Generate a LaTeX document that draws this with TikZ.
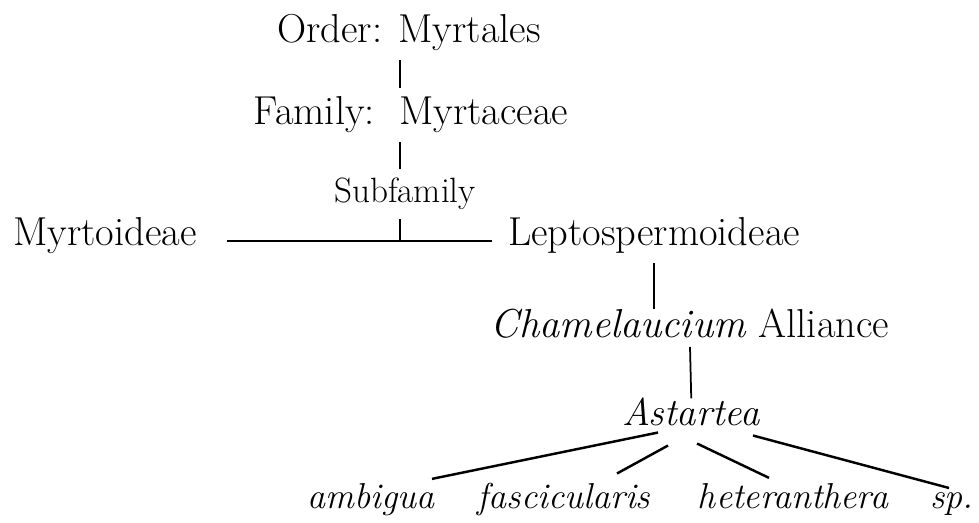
\documentclass[tikz,border=0pt]{standalone}
\usepackage{tikz}
\usetikzlibrary{calc}

\begin{document}
\begin{tikzpicture}[
    x=0.02cm, y=-0.02cm,
    taxon/.style={anchor=base,inner sep=5pt,font=\fontsize{23}{27}\selectfont},
    rank/.style={anchor=base,inner sep=5pt,font=\fontsize{20}{24}\selectfont},
    genus/.style={anchor=base,inner sep=5pt,font=\fontsize{22}{26}\selectfont\itshape},
    leaf/.style={anchor=base,inner sep=5pt,font=\fontsize{20.5}{24}\selectfont\itshape},
    link/.style={line width=1pt},
    twig/.style={line width=1.4pt}
  ]
  \useasboundingbox (0,0) rectangle (979,523);
  \node[taxon] (order)    at (409,43)  {Order: Myrtales};
  \node[taxon] (family)   at (411,125) {Family:\ \ Myrtaceae};
  \node[rank]  (subfam)   at (405,203) {Subfamily};
  \node[taxon] (myrto)    at (105,246) {Myrtoideae};
  \node[taxon] (lepto)    at (654,246) {Leptospermoideae};
  \node[taxon] (chamel)   at (690,337) {\textit{Chamelaucium} Alliance};
  \node[genus] (astartea) at (691,425) {Astartea};
  \node[leaf]  (ambigua)  at (371,508) {ambigua};
  \node[leaf]  (fasc)     at (564,508) {fascicularis};
  \node[leaf]  (hetero)   at (793,508) {heteranthera};
  \node[leaf]  (sp)       at (952,508) {sp.};
  \coordinate (fork) at (400,241);
  \draw[link] (order.south -| fork)  -- (family.north -| fork);
  \draw[link] (family.south -| fork) -- (subfam.north -| fork);
  \draw[link] (subfam.south -| fork) -- (fork);
  \draw[twig,shorten <=0.42cm,shorten >=0.14cm] (myrto.east |- fork) -- (lepto.west |- fork);
  \draw[link,shorten >=-0.2cm] (lepto.south) -- (chamel.north -| lepto.south);
  \draw[link,shorten >=-0.2cm] (chamel.south) -- (astartea.north);
  \draw[twig] ($(astartea.south)+(-33,-2)$) -- ($(ambigua.north)+(61,5)$);
  \draw[twig] ($(astartea.south)+(-23,11)$) -- ($(fasc.north)+(53,0)$);
  \draw[twig] ($(astartea.south)+(6,9)$)    -- ($(hetero.north)+(-24,4)$);
  \draw[twig] ($(astartea.south)+(62,1)$)   -- ($(sp.north)+(-3,5)$);
\end{tikzpicture}
\end{document}
